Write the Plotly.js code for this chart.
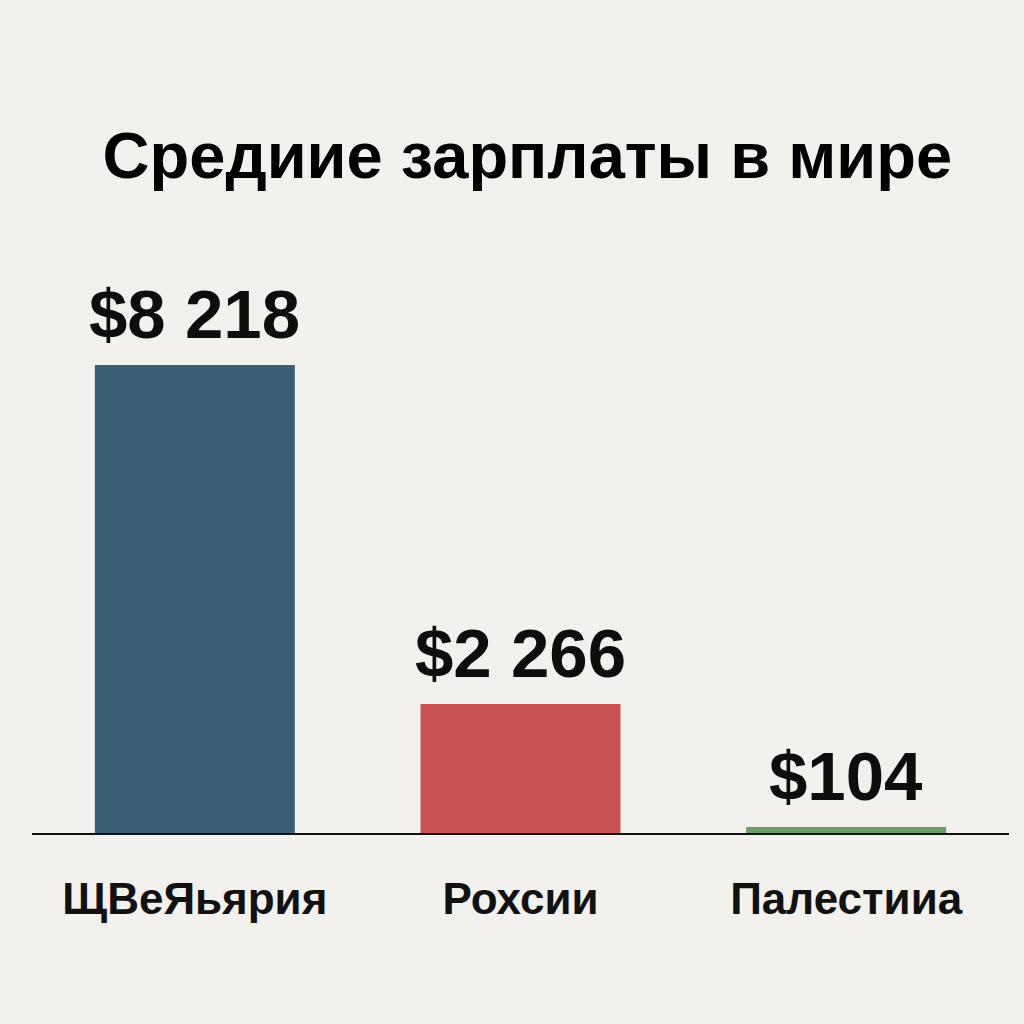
<!DOCTYPE html>
<html>
<head>
<meta charset="utf-8">
<script src="https://cdn.plot.ly/plotly-3.0.1.min.js"></script>
<style>html,body{margin:0;padding:0;background:#f3f1ed;}#chart{width:1024px;height:1024px;}</style>
</head>
<body>
<div id="chart"></div>
<script>
const categories = ["ЩВеЯьярия", "Рохсии", "Палестииа"];
const salaries = [8218, 2266, 104];
const valueLabels = ["$8 218", "$2 266", "$104"];
const barColors = ["#3a5e74", "#c85252", "#6a9b69"];
const chartTitle = "Средиие зарплаты в мире";

const FONT = "Liberation Sans, Arial, sans-serif";
const plotTop = 260, plotBottom = 833, barTopPx = 365;
const ymax = Math.max(...salaries) * (plotBottom - plotTop) / (plotBottom - barTopPx);

const trace = {
  type: "bar",
  x: categories,
  y: salaries,
  marker: {color: barColors, line: {width: 0}},
  hoverinfo: "skip"
};

const annotations = categories.map((c, i) => ({
  x: c, y: salaries[i], xref: "x", yref: "y",
  text: "<b>" + valueLabels[i] + "</b>",
  showarrow: false, yanchor: "bottom", yshift: 10,
  font: {family: FONT, size: 69, color: "#0d0d0d"}
}));

const layout = {
  width: 1024, height: 1024,
  paper_bgcolor: "#f3f1ed", plot_bgcolor: "#f3f1ed",
  margin: {l: 32, r: 15, t: plotTop, b: 1024 - plotBottom},
  title: {text: "<b>" + chartTitle + "</b>", x: 0.515, xanchor: "center", y: 0.848, yanchor: "middle",
          font: {family: FONT, size: 65, color: "#000"}},
  bargap: 0.386,
  showlegend: false,
  xaxis: {showline: true, linecolor: "#111", linewidth: 2, ticks: "", showgrid: false,
          tickfont: {family: FONT, size: 44, color: "#111", weight: "bold"}, ticklabelstandoff: 26, fixedrange: true},
  yaxis: {range: [0, ymax], visible: false, showgrid: false, zeroline: false, fixedrange: true},
  annotations: annotations
};

Plotly.newPlot("chart", [trace], layout, {displayModeBar: false, staticPlot: true});
</script>
</body>
</html>
